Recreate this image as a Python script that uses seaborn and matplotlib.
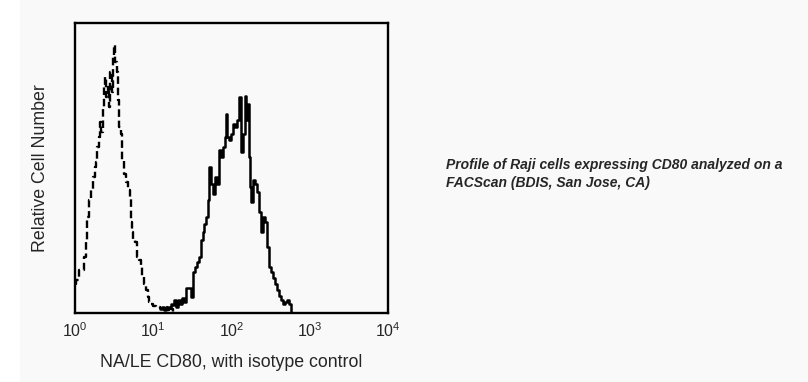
import matplotlib
matplotlib.use("Agg")
import matplotlib.pyplot as plt
from matplotlib.patches import Rectangle
import seaborn as sns
import pandas as pd

# Isotype control (dashed) - fluorescence in decades (log10), relative counts
iso_decade = [0.000, 0.026, 0.064, 0.102, 0.128, 0.153, 0.166, 0.192, 0.217, 0.243,
              0.256, 0.281, 0.294, 0.319, 0.332, 0.345, 0.358, 0.383, 0.396, 0.409,
              0.422, 0.435, 0.447, 0.460, 0.473, 0.486, 0.498, 0.511, 0.524, 0.537,
              0.550, 0.562, 0.575, 0.588, 0.601, 0.613, 0.639, 0.665, 0.690, 0.716,
              0.728, 0.741, 0.754, 0.780, 0.792, 0.805, 0.831, 0.856, 0.869, 0.895,
              0.920, 0.946, 0.958, 0.984, 1.022, 1.061, 1.099, 1.137, 1.163, 1.188,
              1.214, 1.240, 1.265]
iso_count = [28, 32, 42, 42, 55, 72, 95, 112, 122, 135,
             145, 150, 165, 175, 190, 180, 205, 225, 235, 215,
             225, 205, 230, 240, 220, 245, 255, 267, 250, 240,
             212, 200, 185, 178, 168, 152, 138, 130, 122, 115,
             90, 80, 73, 70, 65, 55, 52, 45, 35, 28,
             22, 15, 10, 8, 6, 5, 4, 3, 5, 2,
             6, 3, 0]

# NA/LE CD80 stained (solid)
cd80_decade = [1.086, 1.125, 1.150, 1.176, 1.214, 1.240, 1.252, 1.278, 1.304, 1.329,
               1.355, 1.380, 1.406, 1.431, 1.470, 1.495, 1.521, 1.546, 1.572, 1.597,
               1.623, 1.636, 1.661, 1.687, 1.712, 1.725, 1.751, 1.776, 1.802, 1.827,
               1.853, 1.879, 1.904, 1.930, 1.942, 1.955, 1.981, 2.006, 2.032, 2.058,
               2.083, 2.109, 2.134, 2.160, 2.173, 2.198, 2.211, 2.224, 2.249, 2.262,
               2.288, 2.313, 2.339, 2.364, 2.390, 2.415, 2.441, 2.466, 2.492, 2.518,
               2.543, 2.569, 2.594, 2.620, 2.645, 2.671, 2.696, 2.722, 2.748, 2.760]
cd80_count = [3, 5, 2, 5, 4, 8, 7, 12, 5, 12,
              8, 14, 10, 24, 24, 15, 40, 45, 50, 55,
              72, 80, 88, 95, 112, 145, 128, 118, 135, 128,
              162, 155, 165, 175, 198, 175, 172, 178, 188, 185,
              192, 215, 160, 178, 216, 192, 208, 155, 125, 110,
              132, 128, 120, 100, 80, 95, 90, 65, 45, 40,
              34, 28, 22, 16, 12, 8, 10, 12, 8, 0]

tick_pos = [0, 1, 2, 3, 4]
tick_labels = ["$10^{0}$", "$10^{1}$", "$10^{2}$", "$10^{3}$", "$10^{4}$"]
x_label = "NA/LE CD80, with isotype control"
y_label = "Relative Cell Number"
caption = "Profile of Raji cells expressing CD80 analyzed on a\nFACScan (BDIS, San Jose, CA)"

sns.set_style("white")
plt.rcParams['font.family'] = ['Liberation Sans', 'DejaVu Sans']
plt.rcParams['mathtext.fontset'] = 'custom'
plt.rcParams['mathtext.rm'] = 'Liberation Sans'
plt.rcParams['mathtext.it'] = 'Liberation Sans:italic'

bg = '#f9f9f9'
fig = plt.figure(figsize=(8.08, 3.82), dpi=100, facecolor=bg)
fig.patches.append(Rectangle((0, 0), 20/808, 1, transform=fig.transFigure,
                             facecolor='white', edgecolor='none', zorder=0))
ax = fig.add_axes([75/808, 1-313/382, 313/808, 290/382])
ax.set_facecolor(bg)

iso_df = pd.DataFrame({"decade": iso_decade, "count": iso_count})
cd80_df = pd.DataFrame({"decade": cd80_decade, "count": cd80_count})

sns.lineplot(data=iso_df, x="decade", y="count", ax=ax, color="black",
             linewidth=1.7, linestyle=(0, (3.2, 1.6)), drawstyle="steps-mid",
             estimator=None, sort=False)
sns.lineplot(data=cd80_df, x="decade", y="count", ax=ax, color="black",
             linewidth=1.8, drawstyle="steps-mid", estimator=None, sort=False)

ax.set_xlim(0, 4)
ax.set_ylim(-1, 289)
ax.set_xticks(tick_pos)
ax.set_xticklabels(tick_labels, fontsize=11.5)
ax.set_yticks([])
ax.tick_params(axis='x', length=0, pad=6)
for s in ax.spines.values():
    s.set_visible(True)
    s.set_color('black')
    s.set_linewidth(1.7)
ax.set_xlabel(x_label, fontsize=12.8, labelpad=10)
ax.set_ylabel(y_label, fontsize=12.8, labelpad=19)

fig.text(446/808, 1-158/382, caption, fontsize=10, fontweight='bold',
         fontstyle='italic', va='top', ha='left', linespacing=1.35)

fig.savefig("out.png", dpi=100, facecolor=bg)
